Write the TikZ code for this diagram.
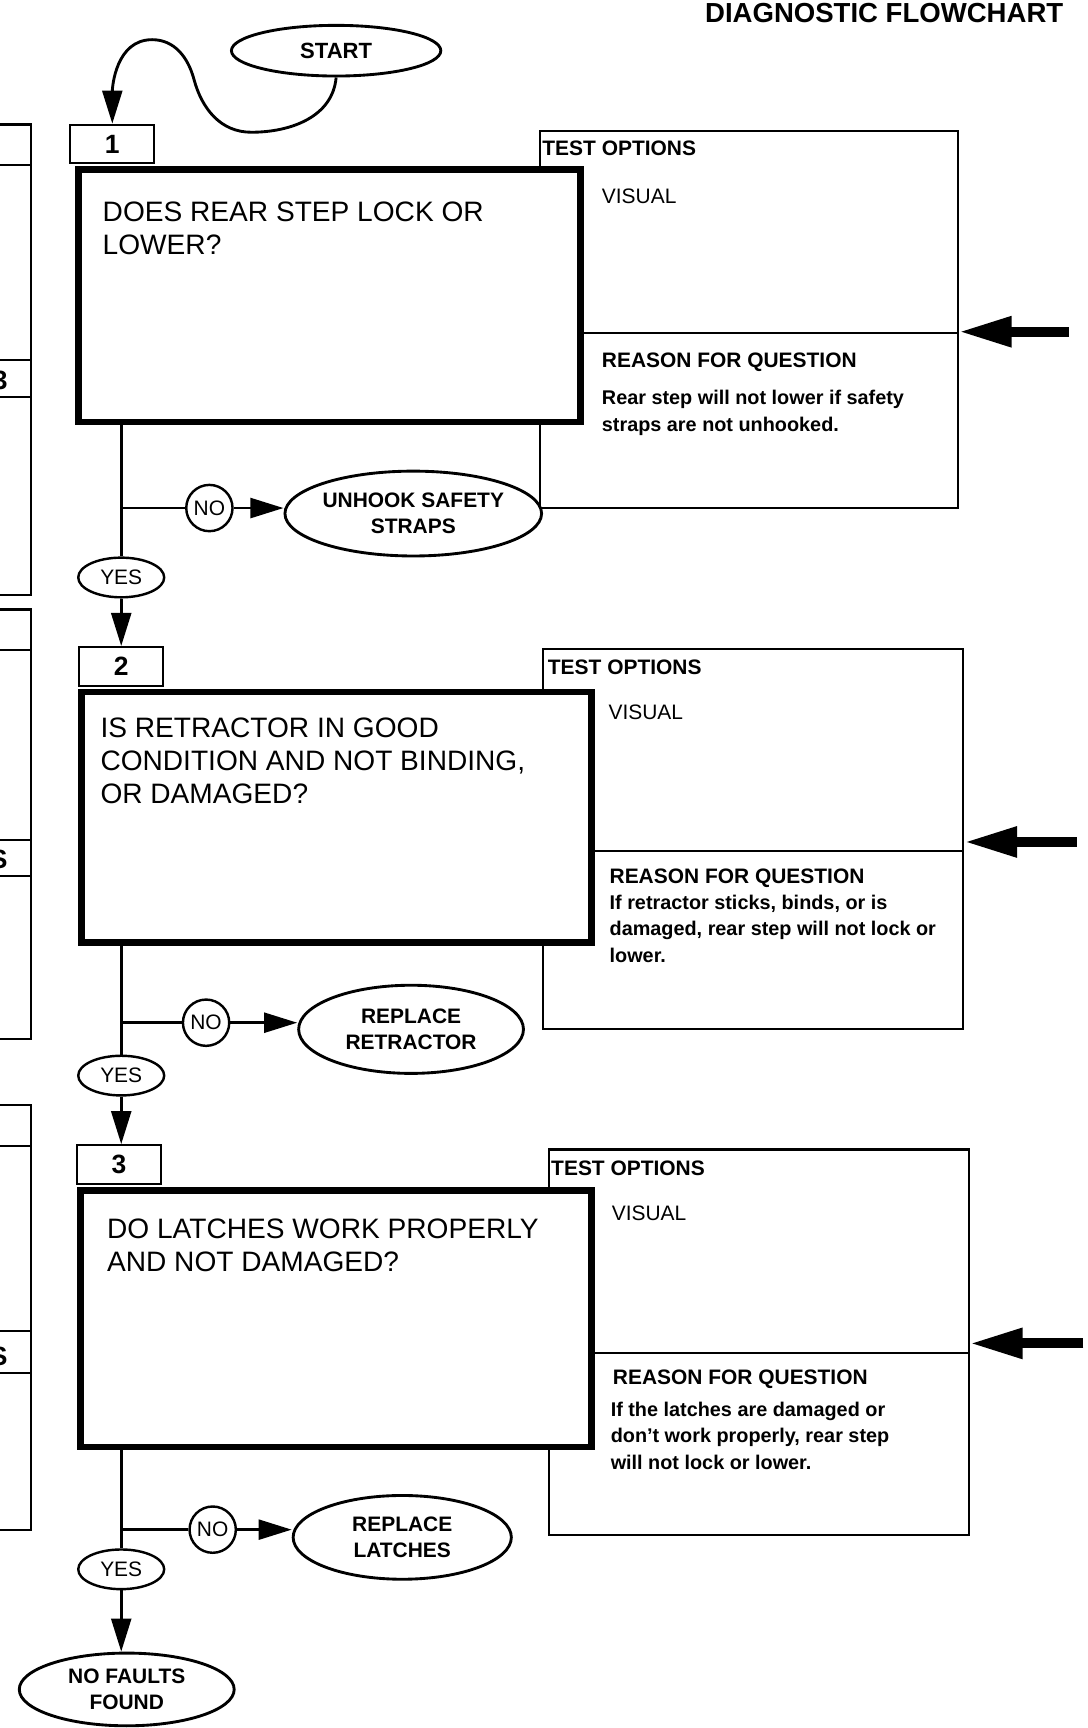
\documentclass[tikz,border=0pt]{standalone}
\usepackage{fontspec}
\setmainfont{Liberation Sans}
\usetikzlibrary{arrows.meta,positioning,shapes.geometric}

\tikzset{
  question/.style={draw, line width=6pt, fill=white, anchor=north west, inner sep=0pt},
  numtab/.style={draw, line width=1.8pt, fill=white, anchor=south west, minimum width=76pt, minimum height=35pt, inner sep=0pt, font=\fontsize{24}{28}\selectfont\bfseries},
  testbox/.style={draw, line width=2pt, anchor=north west, inner sep=0pt},
  oval/.style={draw, ellipse, line width=2.6pt, fill=white, inner sep=0pt, align=center, font=\fontsize{19}{24}\selectfont\bfseries},
  answer/.style={draw, ellipse, line width=2.2pt, fill=white, inner sep=0pt, font=\fontsize{19}{22}\selectfont},
  qtext/.style={anchor=north west, inner sep=0pt, align=left, font=\fontsize{25.5}{30}\selectfont},
  heading/.style={anchor=north west, inner sep=0pt, font=\fontsize{19}{22}\selectfont\bfseries},
  optext/.style={anchor=north west, inner sep=0pt, font=\fontsize{19}{22}\selectfont},
  why/.style={anchor=north west, inner sep=0pt, align=left, font=\fontsize{18}{24}\selectfont\bfseries},
  flow/.style={line width=2.6pt},
  bigarrow/.style={line width=9pt, -{Triangle[length=48pt,width=26pt]}},
}

\begin{document}
\begin{tikzpicture}[x=1pt, y=-1pt, >={Triangle[length=30pt,width=18pt]}]
    \useasboundingbox (0,0) rectangle (987,1568);

    % edge of the previous page
    \foreach \yA/\yB/\yC/\yD/\yE/\mk in {113/150/327/360/540/3, 553/590/762/795/943/S, 1003/1040/1208/1246/1388/S} {
        \draw[line width=2pt] (-20,\yA) -| (28,\yE) -- (-20,\yE);
        \draw[line width=2pt] (-20,\yB) -- (28,\yB);
        \draw[line width=2pt] (-20,\yC) -- (28,\yC);
        \draw[line width=2pt] (-20,\yD) -- (28,\yD);
        \node[anchor=base east, inner sep=0pt, font=\fontsize{24}{28}\selectfont\bfseries] at (7,\yD-7) {\mk};
    }

    \node[anchor=north east, inner sep=0pt, font=\fontsize{25}{30}\selectfont\bfseries] (title) at (965,3) {DIAGNOSTIC FLOWCHART};

    \node[oval, minimum width=190pt, minimum height=46pt, font=\fontsize{20}{24}\selectfont\bfseries] (start) at (305,46) {START};

    % step 1
    \node[testbox, minimum width=379pt, minimum height=342pt] (test1) at (489,118) {};
    \draw[line width=2pt] (489,302) -- (868,302);
    \node[question, minimum width=456pt, minimum height=229pt] (q1) at (68,151) {};
    \node[numtab] (tab1) at (63,149) {1};
    \node[qtext] (q1text) at (93,183) {DOES REAR STEP LOCK OR\\LOWER?};
    \node[heading] (opt1) at (492,128) {TEST OPTIONS};
    \node[optext] (vis1) at (546,171) {VISUAL};
    \node[heading] (rsn1) at (546,320) {REASON FOR QUESTION};
    \node[why] (why1) at (546,354) {Rear step will not lower if safety\\straps are not unhooked.};
    \coordinate (in1) at (970,301);

    \node[answer, minimum width=42pt, minimum height=42pt] (no1) at (190,461) {NO};
    \node[oval, minimum width=222pt, minimum height=77pt] (fix1) at (375,466) {UNHOOK SAFETY\\STRAPS};
    \node[answer, minimum width=78pt, minimum height=36pt] (yes1) at (110,524) {YES};

    % step 2
    \node[testbox, minimum width=381pt, minimum height=345pt] (test2) at (492,588) {};
    \draw[line width=2pt] (492,772) -- (873,772);
    \node[question, minimum width=463pt, minimum height=227pt] (q2) at (71,625) {};
    \node[numtab] (tab2) at (71,623) {2};
    \node[qtext] (q2text) at (91,651) {IS RETRACTOR IN GOOD\\CONDITION AND NOT BINDING,\\OR DAMAGED?};
    \node[heading] (opt2) at (497,599) {TEST OPTIONS};
    \node[optext] (vis2) at (552,639) {VISUAL};
    \node[heading] (rsn2) at (553,788) {REASON FOR QUESTION};
    \node[why] (why2) at (553,812) {If retractor sticks, binds, or is\\damaged, rear step will not lock or\\lower.};
    \coordinate (in2) at (977,764);

    \node[answer, minimum width=42pt, minimum height=42pt] (no2) at (187,928) {NO};
    \node[oval, minimum width=204pt, minimum height=80pt] (fix2) at (373,934) {REPLACE\\RETRACTOR};
    \node[answer, minimum width=78pt, minimum height=36pt] (yes2) at (110,976) {YES};

    % step 3
    \node[testbox, minimum width=381pt, minimum height=350pt] (test3) at (497,1042) {};
    \draw[line width=2pt] (497,1228) -- (878,1228);
    \node[question, minimum width=464pt, minimum height=233pt] (q3) at (70,1077) {};
    \node[numtab] (tab3) at (69,1075) {3};
    \node[qtext] (q3text) at (97,1106) {DO LATCHES WORK PROPERLY\\AND NOT DAMAGED?};
    \node[heading] (opt3) at (500,1053) {TEST OPTIONS};
    \node[optext] (vis3) at (555,1094) {VISUAL};
    \node[heading] (rsn3) at (556,1243) {REASON FOR QUESTION};
    \node[why] (why3) at (554,1272) {If the latches are damaged or\\don't work properly, rear step\\will not lock or lower.};
    \coordinate (in3) at (983,1219);

    \node[answer, minimum width=42pt, minimum height=42pt] (no3) at (193,1388) {NO};
    \node[oval, minimum width=198pt, minimum height=76pt] (fix3) at (365,1395) {REPLACE\\LATCHES};
    \node[answer, minimum width=78pt, minimum height=36pt] (yes3) at (110,1424) {YES};

    \node[oval, minimum width=195pt, minimum height=66pt] (done) at (115,1533) {NO FAULTS\\FOUND};

    % connectors
    \draw[flow, ->] (start.south) to[out=-95, in=0] (228,120) to[out=180, in=-75] (176,72)
        to[out=105, in=0] (138,36) to[out=180, in=90] (tab1.north);

    \draw[flow] (q1.south -| yes1) -- (yes1);
    \draw[flow] (no1) -- (no1 -| yes1);
    \draw[flow, ->] (no1) -- (no1 -| fix1.west);
    \draw[flow, ->] (yes1) -- (yes1 |- tab2.north);

    \draw[flow] (q2.south -| yes2) -- (yes2);
    \draw[flow] (no2) -- (no2 -| yes2);
    \draw[flow, ->] (no2) -- (no2 -| fix2.west);
    \draw[flow, ->] (yes2) -- (yes2 |- tab3.north);

    \draw[flow] (q3.south -| yes3) -- (yes3);
    \draw[flow] (no3) -- (no3 -| yes3);
    \draw[flow, ->] (no3) -- (no3 -| fix3.west);
    \draw[flow, ->] (yes3) -- (yes3 |- done.north);

    \draw[bigarrow] (in1) -- (in1 -| test1.east);
    \draw[bigarrow] (in2) -- (in2 -| test2.east);
    \draw[bigarrow] (in3) -- (in3 -| test3.east);
\end{tikzpicture}
\end{document}
